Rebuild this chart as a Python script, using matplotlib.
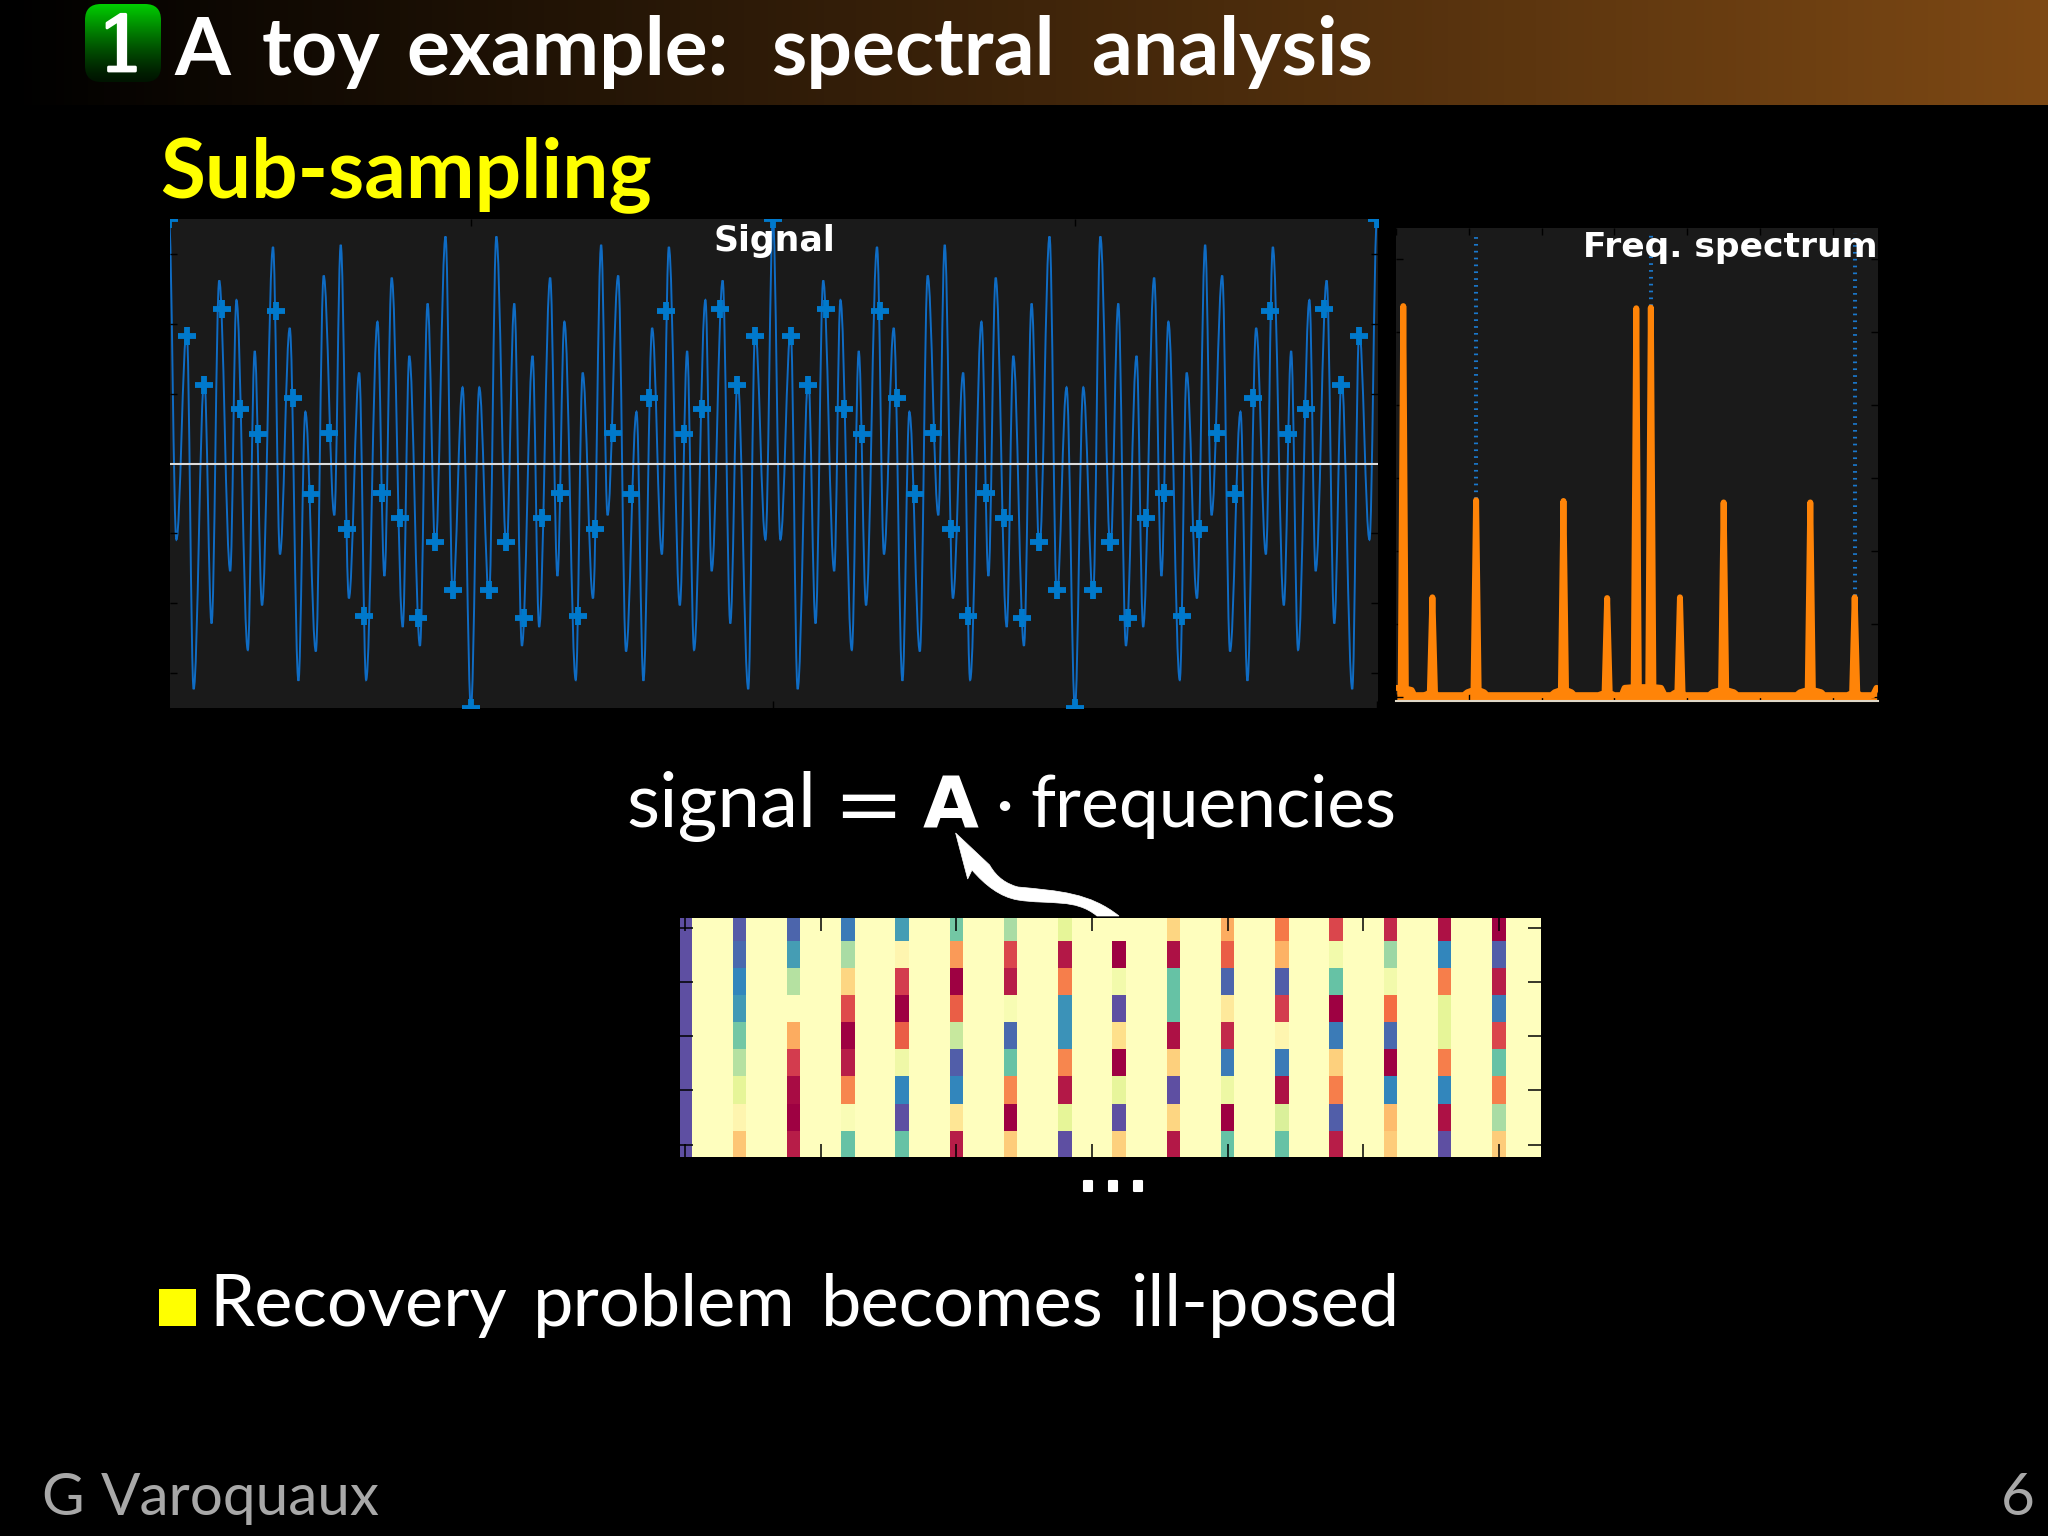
import numpy as np
import matplotlib
matplotlib.use('Agg')
import matplotlib.pyplot as plt
import matplotlib.patheffects as pe
from matplotlib.path import Path
from matplotlib.patches import PathPatch, FancyBboxPatch, Rectangle

# signal: sample positions and values of the crosses
sample_pos = list(range(69))
sample_val = [3.5, 1.82, 1.12, 2.21, 0.78, 0.42, 2.19, 0.94, -0.43, 0.44, -0.94, -2.19, -0.42, -0.78, -2.21, -1.12, -1.81,
              -3.5, -1.81, -1.12, -2.21, -0.78, -0.42, -2.19, -0.94, 0.44, -0.43, 0.94, 2.19, 0.42, 0.78, 2.21, 1.12, 1.82,
              3.5, 1.82, 1.12, 2.21, 0.78, 0.42, 2.19, 0.94, -0.43, 0.44, -0.94, -2.19, -0.42, -0.78, -2.21, -1.12, -1.81,
              -3.5, -1.81, -1.12, -2.21, -0.78, -0.42, -2.19, -0.94, 0.44, -0.43, 0.94, 2.19, 0.42, 0.78, 2.21, 1.12, 1.82,
              3.5]

# signal: crests and troughs of the thin curve
curve_t = [0, 0.42, 1.00, 1.39, 1.99, 2.40, 2.83, 3.45, 3.80, 4.44, 4.83, 5.24, 5.86, 6.25, 6.80, 7.29, 7.68, 8.27,
           8.71, 9.31, 9.67, 10.13, 10.71, 11.10, 11.74, 12.13, 12.54, 13.16, 13.53, 14.13, 14.56, 15.00, 15.57, 15.98, 16.53, 17.00,
           17.47, 18.02, 18.43, 19.00, 19.44, 19.87, 20.47, 20.84, 21.46, 21.87, 22.26, 22.90, 23.29, 23.87, 24.33, 24.69, 25.29,
           25.73, 26.32, 26.71, 27.20, 27.75, 28.14, 28.76, 29.17, 29.56, 30.20, 30.55, 31.17, 31.60, 32.01, 32.61, 33.00, 33.58, 34.00,
           34.42, 35.00, 35.39, 35.99, 36.40, 36.83, 37.45, 37.80, 38.44, 38.83, 39.24, 39.86, 40.25, 40.80, 41.29, 41.68, 42.27,
           42.71, 43.31, 43.67, 44.13, 44.71, 45.10, 45.74, 46.13, 46.54, 47.16, 47.53, 48.13, 48.56, 49.00, 49.57, 49.98, 50.53, 51.00,
           51.47, 52.02, 52.43, 53.00, 53.44, 53.87, 54.47, 54.84, 55.46, 55.87, 56.26, 56.90, 57.29, 57.87, 58.33, 58.69, 59.29,
           59.73, 60.32, 60.71, 61.20, 61.75, 62.14, 62.76, 63.17, 63.56, 64.20, 64.55, 65.17, 65.60, 66.01, 66.61, 67.00, 67.58, 68.00]
curve_y = [3.5, -1.09, 1.91, -3.23, 1.22, -2.29, 2.62, -1.54, 2.34, -2.67, 1.61, -2.03, 3.10, -1.30, 1.94, -3.11, 0.74, -2.69,
           2.69, -0.74, 3.13, -1.93, 1.30, -3.10, 2.03, -1.61, 2.66, -2.34, 1.54, -2.61, 2.29, -1.23, 3.25, -1.91, 1.09, -3.5,
           1.09, -1.91, 3.25, -1.23, 2.29, -2.61, 1.54, -2.34, 2.66, -1.61, 2.03, -3.10, 1.30, -1.93, 3.13, -0.74, 2.69,
           -2.69, 0.74, -3.11, 1.94, -1.30, 3.10, -2.03, 1.61, -2.67, 2.34, -1.54, 2.62, -2.29, 1.22, -3.23, 1.91, -1.09, 3.5,
           -1.09, 1.91, -3.23, 1.22, -2.29, 2.62, -1.54, 2.34, -2.67, 1.61, -2.03, 3.10, -1.30, 1.94, -3.11, 0.74, -2.69,
           2.69, -0.74, 3.13, -1.93, 1.30, -3.10, 2.03, -1.61, 2.66, -2.34, 1.54, -2.61, 2.29, -1.23, 3.25, -1.91, 1.09, -3.5,
           1.09, -1.91, 3.25, -1.23, 2.29, -2.61, 1.54, -2.34, 2.66, -1.61, 2.03, -3.10, 1.30, -1.93, 3.13, -0.74, 2.69,
           -2.69, 0.74, -3.11, 1.94, -1.30, 3.10, -2.03, 1.61, -2.67, 2.34, -1.54, 2.62, -2.29, 1.22, -3.23, 1.91, -1.09, 3.5]

# spectrum outline
spec_f = [0.01, 0.065, 0.10, 0.135, 0.215, 0.25, 0.38, 0.42, 0.465, 0.50, 0.535, 0.56, 0.93, 0.98, 1.065, 1.10, 1.135, 1.21, 1.25,
          2.13, 2.18, 2.265, 2.30, 2.335, 2.41, 2.45, 2.78, 2.865, 2.90, 2.935, 3.00, 3.10, 3.14, 3.265, 3.30, 3.335, 3.465, 3.50,
          3.535, 3.64, 3.69, 3.78, 3.825, 3.865, 3.90, 3.935, 3.96, 4.30, 4.35, 4.465, 4.50, 4.535, 4.64, 4.69, 5.50, 5.55, 5.655,
          5.69, 5.725, 5.84, 5.88, 6.20, 6.265, 6.30, 6.335, 6.38, 6.55, 6.60]
spec_a = [0.13, 0.12, 5.36, 0.12, 0.10, 0.03, 0.03, 0.04, 0.07, 1.37, 0.07, 0.03, 0.03, 0.07, 0.10, 2.70, 0.10, 0.07, 0.03,
          0.03, 0.07, 0.10, 2.69, 0.10, 0.07, 0.03, 0.03, 0.06, 1.36, 0.06, 0.03, 0.03, 0.13, 0.14, 5.33, 0.14, 0.14, 5.34,
          0.14, 0.13, 0.03, 0.03, 0.06, 0.07, 1.37, 0.07, 0.03, 0.03, 0.07, 0.10, 2.67, 0.10, 0.07, 0.03, 0.03, 0.07, 0.10,
          2.67, 0.10, 0.07, 0.03, 0.03, 0.06, 1.37, 0.06, 0.03, 0.03, 0.13]
dotted_f = [1.10, 3.50, 6.30]
dotted_from = [2.72, 5.36, 1.39]
dotted_to = 6.36

# measurement matrix: colored columns, one list per column, rows top to bottom
stripe_cols = [0, 4, 8, 12, 16, 20, 24, 28, 32, 36, 40, 44, 48, 52, 56, 60]
stripes = [
    [1.0, 1.0, 1.0, 1.0, 1.0, 1.0, 1.0, 1.0, 1.0],
    [0.98, 0.95, 0.90, 0.87, 0.78, 0.68, 0.60, 0.47, 0.35],
    [0.96, 0.86, 0.68, 0.50, 0.30, 0.10, 0.02, 0.0, 0.05],
    [0.92, 0.70, 0.38, 0.13, 0.0, 0.05, 0.24, 0.52, 0.80],
    [0.86, 0.47, 0.10, 0.0, 0.17, 0.56, 0.90, 1.0, 0.80],
    [0.78, 0.27, 0.0, 0.17, 0.65, 0.97, 0.90, 0.42, 0.05],
    [0.70, 0.12, 0.05, 0.53, 0.95, 0.80, 0.24, 0.0, 0.36],
    [0.60, 0.04, 0.23, 0.88, 0.88, 0.24, 0.04, 0.60, 1.0],
    [0.50, 0.0, 0.55, 1.0, 0.40, 0.0, 0.59, 1.0, 0.37],
    [0.38, 0.03, 0.80, 0.80, 0.03, 0.37, 1.0, 0.38, 0.04],
    [0.30, 0.17, 0.96, 0.43, 0.07, 0.92, 0.57, 0.0, 0.80],
    [0.22, 0.31, 0.97, 0.10, 0.47, 0.92, 0.03, 0.62, 0.80],
    [0.12, 0.55, 0.80, 0.0, 0.92, 0.37, 0.23, 0.97, 0.05],
    [0.07, 0.72, 0.55, 0.20, 0.95, 0.0, 0.90, 0.33, 0.36],
    [0.03, 0.90, 0.23, 0.60, 0.60, 0.23, 0.90, 0.03, 1.0],
    [0.0, 0.97, 0.05, 0.92, 0.12, 0.80, 0.23, 0.70, 0.36],
]
n_rows = 9
n_cols = 64

W, H = 2048, 1536
PANEL = '#1a1a1a'
SANS = ['Lato', 'DejaVu Sans']


def axes_px(left, top, right, bottom):
    return fig.add_axes([left / W, 1 - bottom / H, (right - left) / W, (bottom - top) / H])


def words(xs, y, strings, **kw):
    # the slide is justified, so each word has its own start
    for x, s in zip(xs, strings):
        bg.text(x, y, s, family=SANS, va='baseline', **kw)


fig = plt.figure(figsize=(W / 100, H / 100), dpi=100, facecolor='black')

# slide layer, in pixels
bg = fig.add_axes([0, 0, 1, 1])
bg.set_xlim(0, W)
bg.set_ylim(H, 0)
bg.axis('off')

bar = np.linspace(0, 1, 256)[None, :, None] * np.array([124, 72, 20])[None, None, :] / 255
bg.imshow(bar, extent=(0, W, 105, 0), aspect='auto', zorder=1)
fade = np.linspace(1, 0, 64)[:, None, None] ** 1.3
green = fade * np.array([0, 185, 0])[None, None, :] / 255 + np.array([0, 0.08, 0])
box = FancyBboxPatch((90, 9), 66, 68, boxstyle='round,pad=5,rounding_size=16', fc='none', ec='none', zorder=2)
bg.add_patch(box)
im = bg.imshow(np.clip(green, 0, 1), extent=(84, 162, 82, 4), aspect='auto', zorder=2)
im.set_clip_path(box)
bg.set_xlim(0, W)
bg.set_ylim(H, 0)

num = bg.text(122, 71, '1', color='white', fontsize=55, family='DejaVu Serif', ha='center', va='baseline', zorder=3)
num.set_path_effects([pe.withStroke(linewidth=2, foreground='white')])
words([174, 262, 406, 771, 1092], 75, ['A', 'toy', 'example:', 'spectral', 'analysis'],
      color='white', fontsize=58, fontweight='bold', zorder=3)
bg.text(160, 197, 'Sub-sampling', color='#ffff00', fontsize=59, fontweight='bold', family=SANS, va='baseline')

bg.text(626, 827, 'signal', color='white', fontsize=55, family=SANS, va='baseline')
bg.text(833, 832, '=', color='white', fontsize=60, family='DejaVu Sans', va='baseline')
bg.text(923, 827, 'A', color='white', fontsize=52, fontweight='bold', family='DejaVu Sans', va='baseline')
bg.text(995, 827, '·', color='white', fontsize=50, family=SANS, va='baseline')
bg.text(1030, 827, 'frequencies', color='white', fontsize=51.5, family=SANS, va='baseline')

# arrow from the matrix up to A
arrow = Path([(955.6, 833), (989.6, 865),
              (997, 878), (1007, 884), (1018, 887),
              (1060, 891), (1090, 893), (1119, 916),
              (1097, 916),
              (1075, 898), (1050, 905), (1018, 900),
              (1000, 897), (985, 885), (972, 870),
              (967.7, 879), (955.6, 833)],
             [Path.MOVETO, Path.LINETO,
              Path.CURVE4, Path.CURVE4, Path.CURVE4,
              Path.CURVE4, Path.CURVE4, Path.CURVE4,
              Path.LINETO,
              Path.CURVE4, Path.CURVE4, Path.CURVE4,
              Path.CURVE4, Path.CURVE4, Path.CURVE4,
              Path.LINETO, Path.CLOSEPOLY])
bg.add_patch(PathPatch(arrow, fc='white', ec='white', lw=0.5))

dots = bg.text(1113, 1191, '...', color='white', fontsize=56, family='DejaVu Sans', ha='center', va='baseline')
dots.set_path_effects([pe.withStroke(linewidth=1.5, foreground='white')])

bg.add_patch(Rectangle((159, 1289), 37, 37, fc='#ffff00', ec='none'))
words([209, 533, 821, 1131], 1326, ['Recovery', 'problem', 'becomes', 'ill-posed'], color='white', fontsize=52)

words([41, 101], 1515, ['G', 'Varoquaux'], color='#a8a8a8', fontsize=42)
bg.text(2035, 1515, '6', color='#a8a8a8', fontsize=42, family=SANS, ha='right', va='baseline')

# signal panel
ax1 = axes_px(170, 219, 1378, 708)
ax1.set_facecolor(PANEL)
verts = [(curve_t[0], curve_y[0])]
codes = [Path.MOVETO]
for i in range(1, len(curve_t)):
    dt = curve_t[i] - curve_t[i - 1]
    verts += [(curve_t[i - 1] + 0.37 * dt, curve_y[i - 1]), (curve_t[i] - 0.37 * dt, curve_y[i]), (curve_t[i], curve_y[i])]
    codes += [Path.CURVE4] * 3
ax1.add_patch(PathPatch(Path(verts, codes), fc='none', ec='#0f6cc4', lw=1.4))
ax1.plot(sample_pos, sample_val, ls='none', marker='+', ms=13, mew=4.2, color='#0079cc')
ax1.axhline(0, color='#dcdcdc', lw=1.5)
ax1.set_xlim(0.06, 68.06)
ax1.set_ylim(-3.5, 3.5)
ax1.set_xticks([17, 34, 51, 68])
ax1.set_yticks([-3, -2, -1, 0, 1, 2, 3])
ax1.tick_params(direction='in', top=True, right=True, color='black', length=5, width=1, labelbottom=False, labelleft=False)
for s in ax1.spines.values():
    s.set_visible(False)
ax1.text(0.5, 0.955, 'Signal', transform=ax1.transAxes, color='white', fontsize=25, fontweight='bold',
         family='DejaVu Sans', ha='center', va='center')

# spectrum panel
ax2 = axes_px(1396, 228, 1878, 701)
ax2.set_facecolor(PANEL)
for f, a in zip(dotted_f, dotted_from):
    ax2.plot([f, f], [a, dotted_to], color='#1a78cc', lw=2.9, ls=(0, (0.42, 1.28)), dash_capstyle='butt')
ax2.fill_between(spec_f, -0.03, spec_a, color='#ff8408', lw=0)
ax2.plot(spec_f, spec_a, color='#ff8408', lw=4.3, solid_joinstyle='round', solid_capstyle='round')
ax2.set_xlim(0, 6.62)
ax2.set_ylim(-0.05, 6.43)
ax2.set_xticks(range(7))
ax2.set_yticks(range(7))
ax2.tick_params(direction='in', top=True, right=True, color='black', length=5, width=1, labelbottom=False, labelleft=False)
for name, s in ax2.spines.items():
    s.set_visible(name == 'bottom')
ax2.spines['bottom'].set_color('#e0d8c8')
ax2.spines['bottom'].set_linewidth(1.5)
ax2.text(0.999, 0.958, 'Freq. spectrum', transform=ax2.transAxes, color='white', fontsize=24.8, fontweight='bold',
         family='DejaVu Sans', ha='right', va='center')

# matrix panel
matrix = np.full((n_rows, n_cols), 0.5)
matrix[:, stripe_cols] = np.array(stripes).T
ax3 = axes_px(680, 918, 1541, 1157)
ax3.imshow(matrix, cmap='Spectral', vmin=0, vmax=1, aspect='auto', interpolation='nearest')
ax3.set_xlim(-0.38, 63.1)
ax3.set_ylim(8.46, -0.37)
ax3.set_xticks(range(0, 61, 10))
ax3.set_yticks(range(0, 9, 2))
ax3.tick_params(direction='in', top=True, right=True, color='black', length=9.5, width=1.1, labelbottom=False, labelleft=False)
for s in ax3.spines.values():
    s.set_visible(False)

fig.savefig('out.png', dpi=100, facecolor='black')
